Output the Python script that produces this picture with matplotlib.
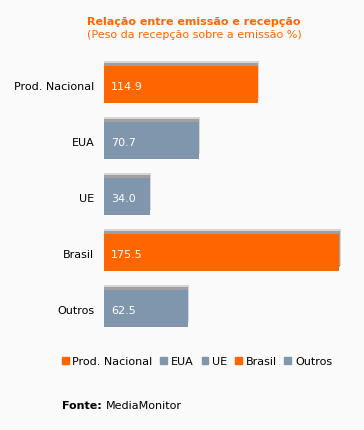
import matplotlib
matplotlib.use('Agg')
from matplotlib import pyplot as plt
from matplotlib.patches import Patch
import numpy as np

categories = ['Prod. Nacional', 'EUA', 'UE', 'Brasil', 'Outros']
values = [114.9, 70.7, 34.0, 175.5, 62.5]
colors = ['#ff6600', '#7f96ad', '#7f96ad', '#ff6600', '#7f96ad']

W, H = 364, 431
fig = plt.figure(figsize=(W / 100, H / 100), dpi=100, facecolor='#fafafa')
# axes in pixel coords: left 104, top 57.5, bottom 337.5
ax = fig.add_axes([104 / W, 1 - 337.5 / H, (W - 104) / W, 280 / H])
ax.set_facecolor('#fafafa')

y = np.arange(len(categories))
scale = 235 / 175.5  # px per unit
xmax = (W - 104) / scale
bh = 37 / 56
off = 5 / 56

# drop shadow above each bar
ax.barh(y - off, [v + 1.5 / scale for v in values], height=bh, color='#d6d6d6', align='center', zorder=1)
ax.barh(y - off + 1 / 56, [v + 0.5 / scale for v in values], height=bh - 1 / 56, color='#a0a0a0', align='center', zorder=2)
ax.barh(y, values, height=bh, color=colors, align='center', zorder=3)

for i, v in enumerate(values):
    ax.text(7 / scale, i + 0.02, '%.1f' % v, color='white', fontsize=8, va='center', ha='left', zorder=4)

ax.set_xlim(0, xmax)
ax.set_ylim(len(categories) - 0.5, -0.5)
for s in ax.spines.values():
    s.set_visible(False)
ax.set_xticks([])
ax.set_yticks(y)
ax.set_yticklabels(categories, fontsize=8)
ax.tick_params(axis='y', length=0, pad=7)

fig.text(194 / W, 1 - 22 / H, 'Relação entre emissão e recepção', color='#ff6600',
         fontsize=8, fontweight='bold', ha='center', va='center')
fig.text(194 / W, 1 - 35 / H, '(Peso da recepção sobre a emissão %)', color='#ff6600',
         fontsize=8, ha='center', va='center')

handles = [Patch(color=c, label=l) for c, l in zip(colors, categories)]
fig.legend(handles=handles, loc='center', bbox_to_anchor=(197 / W, 1 - 362 / H), ncol=5,
           frameon=False, fontsize=8, handlelength=0.6, handleheight=0.6,
           handletextpad=0.35, columnspacing=0.7, borderpad=0)

fig.text(62 / W, 1 - 406 / H, 'Fonte:', fontsize=8, fontweight='bold', ha='left', va='center')
fig.text(106 / W, 1 - 406 / H, 'MediaMonitor', fontsize=8, ha='left', va='center')

plt.savefig('out.png', dpi=100, facecolor=fig.get_facecolor())
